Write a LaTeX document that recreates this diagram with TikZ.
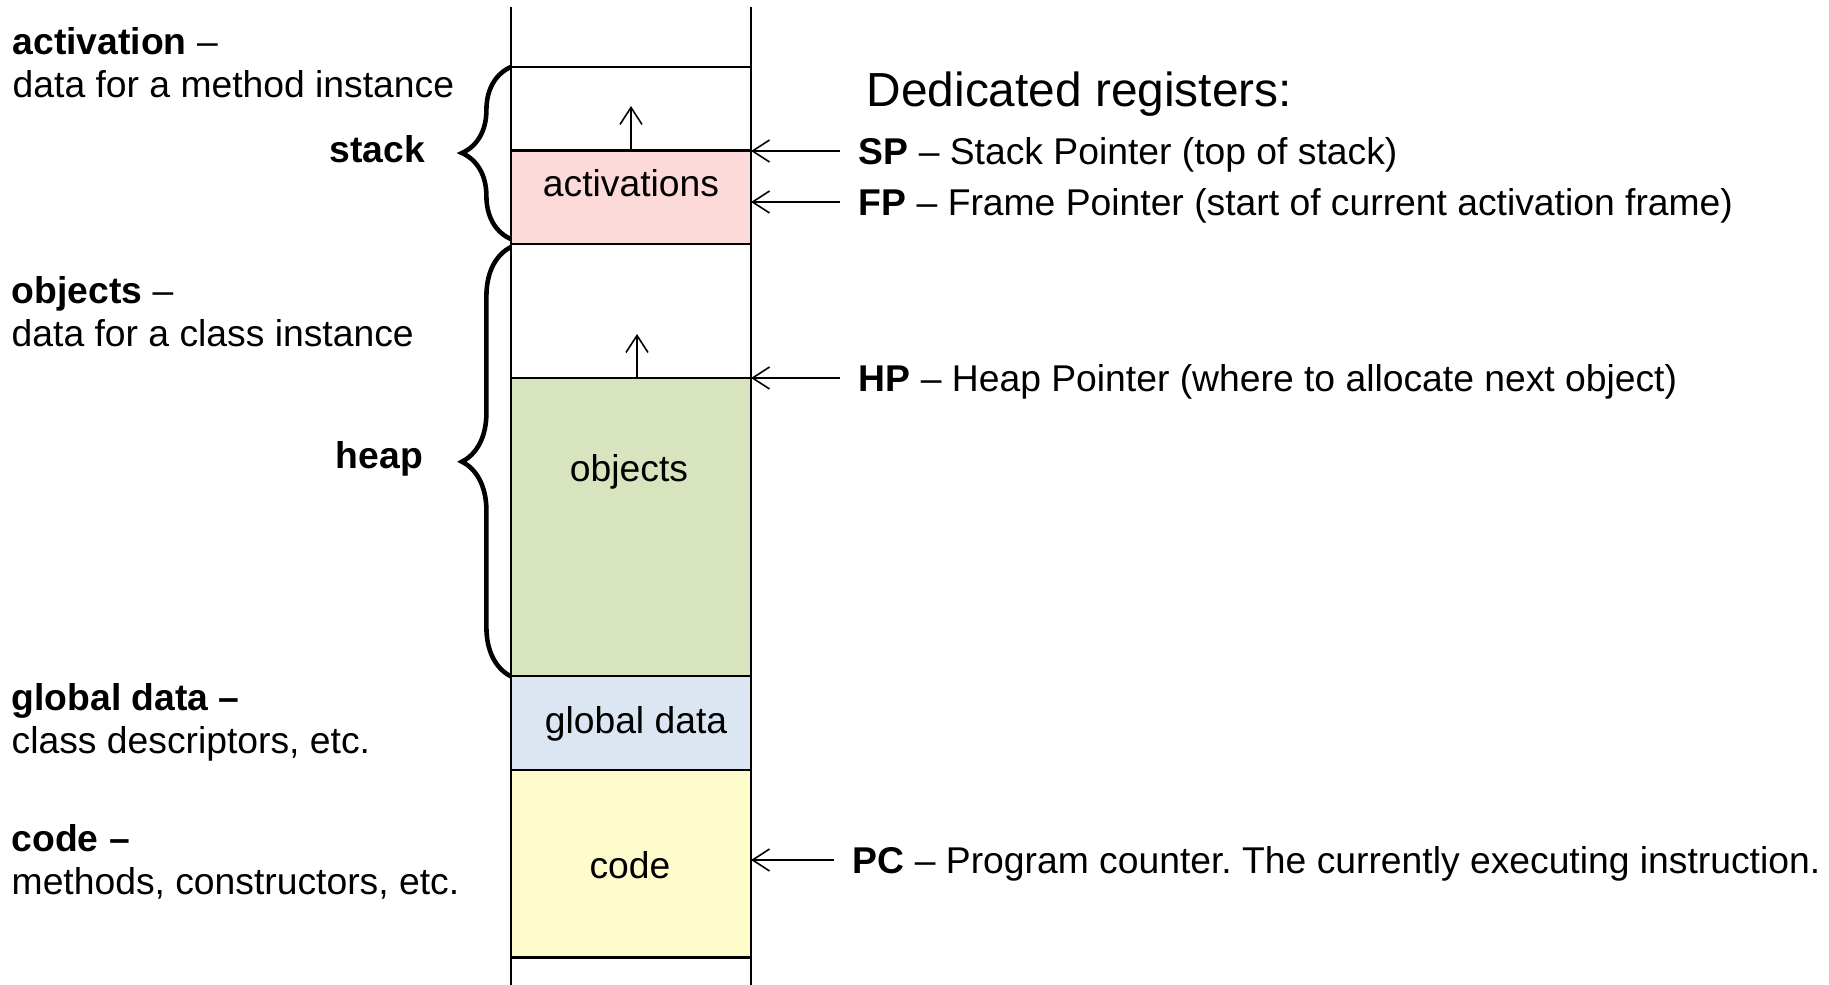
\documentclass[tikz,border=0pt]{standalone}
\usepackage{fontspec}
\setmainfont{Liberation Sans}
\usetikzlibrary{positioning,arrows.meta,decorations.pathreplacing}
\definecolor{actpink}{RGB}{253,218,218}
\definecolor{objgreen}{RGB}{215,228,189}
\definecolor{globblue}{RGB}{220,230,242}
\definecolor{codeyellow}{RGB}{255,252,204}
\frenchspacing

\begin{document}
\begin{tikzpicture}[
  x=0.01cm, y=-0.01cm,
  seg/.style={rectangle, draw, line width=0.6pt, minimum width=2.4cm, inner sep=0pt, outer sep=0pt},
  rail/.style={line width=0.45pt},
  ptr/.style={-{Straight Barb[length=0.17cm,width=0.22cm]}, line width=0.45pt},
  brc/.style={decorate, decoration={brace, amplitude=0.49cm}, line width=1.3pt},
  note/.style={align=left, anchor=west, inner sep=0pt, font=\fontsize{10.6}{12.2}\selectfont},
  part/.style={anchor=east, inner sep=0pt, font=\fontsize{10.6}{12.7}\selectfont\bfseries},
  seglbl/.style={inner sep=0pt, font=\fontsize{10.6}{12.7}\selectfont},
  reg/.style={anchor=west, inner xsep=0.18cm, inner ysep=0pt, text height=7.7pt, text depth=0.2pt,
              font=\fontsize{10.6}{12.7}\selectfont}
]
\useasboundingbox (0,0) rectangle (1829,985);

% memory column
\draw[rail] (511,7) -- (511,985);
\draw[rail] (751,7) -- (751,985);
\node[seg, fill=white, minimum height=0.835cm] (sfree) at (631,108.75) {};
\node[seg, fill=actpink, minimum height=0.935cm, below=0cm of sfree] (act) {};
\node[seg, fill=white, minimum height=1.34cm, below=0cm of act] (hfree) {};
\node[seg, fill=objgreen, minimum height=2.98cm, below=0cm of hfree] (obj) {};
\node[seg, fill=globblue, minimum height=0.94cm, below=0cm of obj] (glob) {};
\node[seg, fill=codeyellow, minimum height=1.87cm, below=0cm of glob] (code) {};

\node[seglbl] (actlbl) at (631,183) {activations};
\node[seglbl] (objlbl) at (629,471.5) {objects};
\node[seglbl] (globlbl) at (636,723.5) {global data};
\node[seglbl] (codelbl) at (630,865) {code};

% growth
\coordinate (sgrow) at (631,106);
\coordinate (hgrow) at (637,334);
\draw[ptr] (act.north) -- (sgrow);
\draw[ptr] (hgrow |- obj.north) -- (hgrow);

% braces
\draw[brc] ([yshift=0.05cm]act.south west) -- (sfree.north west);
\draw[brc] (obj.south west) -- ([yshift=-0.03cm]hfree.north west);
\node[part] (stacklbl) at (425.5,149) {stack};
\node[part] (heaplbl) at (423.5,458.5) {heap};

% left notes
\node[note] (actnote) at (12,62.5) {\textbf{activation} --\\data for a method instance};
\node[note] (objnote) at (11,312) {\textbf{objects} --\\data for a class instance};
\node[note] (globnote) at (11,722) {\textbf{global data --}\\class descriptors, etc.};
\node[note] (codenote) at (11,862) {\textbf{code --}\\methods, constructors, etc.};

% registers
\node[anchor=west, inner sep=0pt, font=\fontsize{13.6}{16}\selectfont] (regtitle) at (866,94.5) {Dedicated registers:};
\node[reg] (sp) at (840,151) {\textbf{SP} -- Stack Pointer (top of stack)};
\node[reg] (fp) at (840,202) {\textbf{FP} -- Frame Pointer (start of current activation frame)};
\node[reg] (hp) at (840,378) {\textbf{HP} -- Heap Pointer (where to allocate next object)};
\node[reg] (pc) at (834,860) {\textbf{PC} -- Program counter. The currently executing instruction.};

\draw[ptr] (sp.west) -- (sp.west -| act.east);
\draw[ptr] (fp.west) -- (fp.west -| act.east);
\draw[ptr] (hp.west) -- (hp.west -| obj.east);
\draw[ptr] (pc.west) -- (pc.west -| code.east);
\end{tikzpicture}
\end{document}
